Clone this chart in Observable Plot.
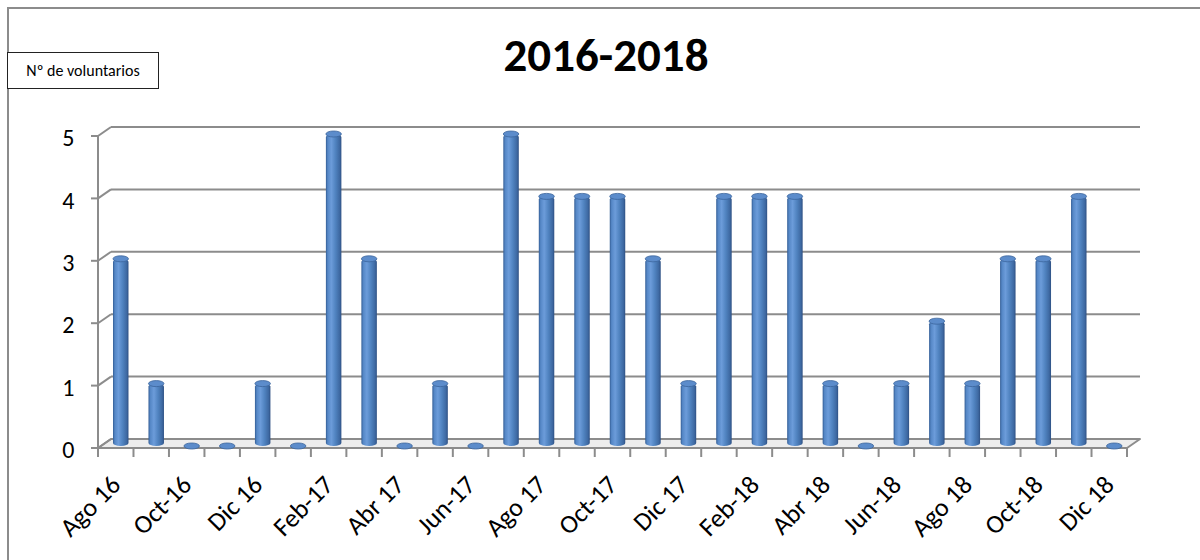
<!DOCTYPE html>
<html>
<head>
<meta charset="utf-8">
<script src="https://cdn.jsdelivr.net/npm/d3@7"></script>
<script src="https://cdn.jsdelivr.net/npm/@observablehq/plot@0.6"></script>
<style>
  html, body { margin: 0; padding: 0; background: #fff; overflow: hidden; }
  #wrap { position: relative; width: 1200px; height: 560px; overflow: hidden;
          font-family: Carlito, Calibri, Lato, "Noto Sans", sans-serif; }
  #frame { position: absolute; left: 7px; top: 7px; width: 1300px; height: 700px;
           border-left: 2px solid #8c8c8c; border-top: 2px solid #8c8c8c; box-sizing: border-box; }
  #ylab { position: absolute; left: 7px; top: 52px; width: 152px; height: 37px; box-sizing: border-box;
          border: 1px solid #222; font-size: 16px; line-height: 35px; text-align: center; color: #000; background: #fff; }
  #title { position: absolute; left: 0; width: 1212px; top: 32px; text-align: center;
           font-size: 47px; font-weight: bold; line-height: 46px; color: #000; }
  #chart { position: absolute; left: 0; top: 0; }
</style>
</head>
<body>
<div id="wrap">
  <div id="chart"></div>
  <div id="frame"></div>
  <div id="ylab">Nº de voluntarios</div>
  <div id="title">2016-2018</div>
</div>
<script>
const months = ["Ago 16","Sep 16","Oct-16","Nov 16","Dic 16","Ene 17","Feb-17","Mar 17","Abr 17","May 17",
  "Jun-17","Jul 17","Ago 17","Sep 17","Oct-17","Nov 17","Dic 17","Ene 18","Feb-18","Mar 18",
  "Abr 18","May 18","Jun-18","Jul 18","Ago 18","Sep 18","Oct-18","Nov 18","Dic 18"];
const volunteers = [3,1,0,0,1,0,5,3,0,1,0,5,4,4,4,3,1,4,4,4,1,0,1,2,1,3,3,4,0];
const tickLabels = ["Ago 16","Oct-16","Dic 16","Feb-17","Abr 17","Jun-17","Ago 17","Oct-17","Dic 17",
  "Feb-18","Abr 18","Jun-18","Ago 18","Oct-18","Dic 18"];
const yTicks = [0,1,2,3,4,5];

const data = months.map((m, i) => ({month: m, value: volunteers[i]}));
const ns = "http://www.w3.org/2000/svg";
const DX = 13, DY = -9, GRID = "#8c8c8c";

function el(name, attrs) {
  const e = document.createElementNS(ns, name);
  for (const k in attrs) e.setAttribute(k, attrs[k]);
  return e;
}

// 3D walls, floor and axis lines drawn from the plot's scales
function walls(index, scales) {
  const {x, y} = scales;
  const g = el("g", {});
  const defs = el("defs", {});
  const grad = el("linearGradient", {id: "cyl", x1: "0", x2: "1", y1: "0", y2: "0"});
  [["0%","#335d95"],["12%","#5587c6"],["35%","#6c9cda"],["62%","#5083c0"],["88%","#3e69a2"],["100%","#2e5083"]]
    .forEach(([o,c]) => grad.appendChild(el("stop", {offset: o, "stop-color": c})));
  defs.appendChild(grad);
  g.appendChild(defs);
  const x0 = x(months[0]);
  const x1 = x(months[months.length - 1]) + x.bandwidth();
  const y0 = y(0);
  // floor
  g.appendChild(el("polygon", {points: `${x0},${y0} ${x1},${y0} ${x1+DX},${y0+DY} ${x0+DX},${y0+DY}`,
    fill: "#ededed", stroke: GRID, "stroke-width": 2, "stroke-linejoin": "round"}));
  for (const v of yTicks) {
    const yy = y(v);
    if (v > 0) g.appendChild(el("line", {x1: x0+DX, x2: x1+DX, y1: yy+DY, y2: yy+DY, stroke: GRID, "stroke-width": 2}));
    g.appendChild(el("line", {x1: x0, x2: x0+DX, y1: yy, y2: yy+DY, stroke: GRID, "stroke-width": 2}));
    g.appendChild(el("line", {x1: x0-7, x2: x0, y1: yy, y2: yy, stroke: GRID, "stroke-width": 2}));
  }
  g.appendChild(el("line", {x1: x0, x2: x0, y1: y(5), y2: y0, stroke: GRID, "stroke-width": 2}));
  const bounds = months.map(m => x(m)).concat([x1]);
  for (const bx of bounds) {
    g.appendChild(el("line", {x1: bx, x2: bx, y1: y0, y2: y0+9, stroke: GRID, "stroke-width": 2}));
  }
  return g;
}

const chart = Plot.plot({
  width: 1200,
  height: 560,
  marginTop: 136,
  marginBottom: 112,
  marginLeft: 98,
  marginRight: 73,
  x: {type: "band", domain: months, padding: 0, round: false, axis: null},
  y: {domain: [0, 5], axis: null},
  style: {fontFamily: "Carlito, Calibri, Lato, 'Noto Sans', sans-serif", background: "transparent"},
  marks: [
    walls,
    Plot.barY(data, {x: "month", y: "value", fill: "url(#cyl)", insetLeft: 10, insetRight: 10,
      dx: 5, dy: -2, rx: 7.5, ry: 3}),
    Plot.barY(data, {x: "month", y1: "value", y2: "value", insetTop: -3, insetBottom: -3,
      insetLeft: 10, insetRight: 10, dx: 5, dy: -2, rx: 7.5, ry: 3,
      fill: "#5c8ccb", stroke: "#3b659c", strokeWidth: 0.8}),
    Plot.text(yTicks, {y: d => d, text: d => String(d), frameAnchor: "left", textAnchor: "end",
      dx: -24, dy: 2, fontSize: 24, fill: "#000"}),
    Plot.text(tickLabels, {x: d => d, text: d => d, frameAnchor: "bottom", rotate: -45,
      textAnchor: "end", lineAnchor: "middle", dx: 0, dy: 32, fontSize: 26, fill: "#000"})
  ]
});
document.getElementById("chart").appendChild(chart);
</script>
</body>
</html>
